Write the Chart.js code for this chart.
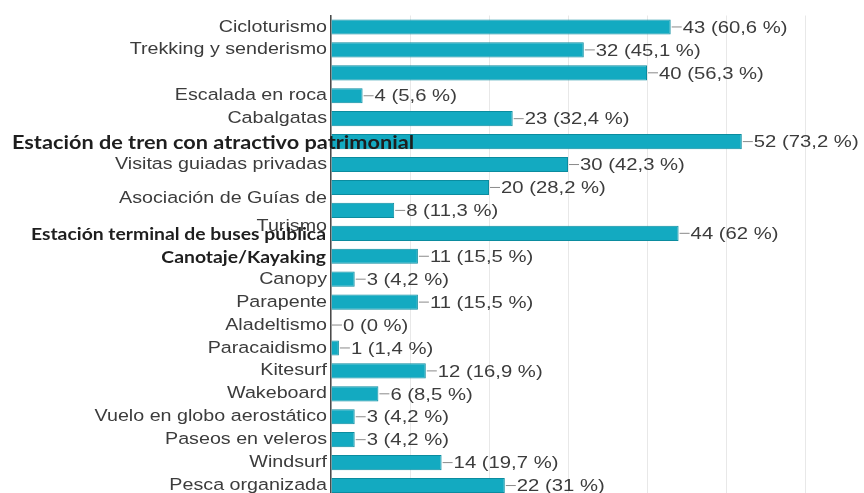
<!DOCTYPE html>
<html>
<head>
<meta charset="utf-8">
<script src="https://cdn.jsdelivr.net/npm/chart.js@4/dist/chart.umd.min.js"></script>
<style>
  html, body { margin: 0; padding: 0; background: #fff; overflow: hidden; }
  #wrap { width: 864px; height: 497px; }
</style>
</head>
<body>
<div id="wrap"><canvas id="actChart"></canvas></div>
<script>
const categories = [
  "Cicloturismo",
  "Trekking y senderismo",
  "",
  "Escalada en roca",
  "Cabalgatas",
  "Estación de tren con atractivo patrimonial",
  "Visitas guiadas privadas",
  "",
  ["Asociación de Guías de", "Turismo"],
  "Estación terminal de buses pública",
  "Canotaje/Kayaking",
  "Canopy",
  "Parapente",
  "Aladeltismo",
  "Paracaidismo",
  "Kitesurf",
  "Wakeboard",
  "Vuelo en globo aerostático",
  "Paseos en veleros",
  "Windsurf",
  "Pesca organizada"
];
const counts = [43, 32, 40, 4, 23, 52, 30, 20, 8, 44, 11, 3, 11, 0, 1, 12, 6, 3, 3, 14, 22];
const percents = [60.6, 45.1, 56.3, 5.6, 32.4, 73.2, 42.3, 28.2, 11.3, 62, 15.5, 4.2, 15.5, 0, 1.4, 16.9, 8.5, 4.2, 4.2, 19.7, 31];
const xTicks = [0, 10, 20, 30, 40, 50, 60];

// labels pasted in another font in the original picture
const boldRows = [5, 9, 10];
const STRETCH = 1.18;

function fmtPct(p) {
  return String(p).replace(".", ",") + " %";
}

function stretchedText(ctx, txt, x, y, align) {
  ctx.save();
  ctx.translate(x, y);
  ctx.scale(STRETCH, 1);
  ctx.textAlign = align;
  ctx.fillText(txt, 0, 0);
  ctx.restore();
}

const labelPlugin = {
  id: "labelPlugin",
  afterDraw(chart) {
    const ctx = chart.ctx;
    const yScale = chart.scales.y;
    const left = chart.chartArea.left;
    ctx.save();
    ctx.textBaseline = "middle";

    // category labels
    categories.forEach((lab, i) => {
      const y = yScale.getPixelForTick(i);
      if (boldRows.includes(i)) {
        ctx.fillStyle = "#1e1e1e";
        if (i === 5) {
          ctx.font = "bold 18.4px Lato";
          stretchedText(ctx, lab, 12, y + 1, "left");
        } else {
          ctx.font = "bold 16.4px Lato";
          stretchedText(ctx, lab, left - 5, y + 1, "right");
        }
        return;
      }
      ctx.font = "16.7px 'Liberation Sans'";
      ctx.fillStyle = "#3c3c3c";
      const lines = Array.isArray(lab) ? lab : [lab];
      const lh = 28;
      lines.forEach((ln, k) => {
        const off = lines.length > 1 ? 2 : 0;
        const yy = y + off + (k - (lines.length - 1) / 2) * lh;
        stretchedText(ctx, ln, left - 4, yy, "right");
      });
    });

    // value labels with leader dash
    const meta = chart.getDatasetMeta(0);
    ctx.font = "17.2px 'Liberation Sans'";
    meta.data.forEach((bar, i) => {
      const x0 = bar.x + 1;
      const y = bar.y;
      ctx.strokeStyle = "#8a8a8a";
      ctx.lineWidth = 1;
      ctx.beginPath();
      ctx.moveTo(x0, y);
      ctx.lineTo(x0 + 10, y);
      ctx.stroke();
      ctx.fillStyle = "#3c3c3c";
      stretchedText(ctx, counts[i] + " (" + fmtPct(percents[i]) + ")", x0 + 11, y + 1, "left");
    });
    ctx.restore();
  }
};

new Chart(document.getElementById("actChart"), {
  type: "bar",
  data: {
    labels: categories,
    datasets: [{
      data: counts,
      backgroundColor: "#13aac1",
      borderColor: "#0b8c9f",
      borderWidth: 1,
      barPercentage: 0.66,
      categoryPercentage: 1
    }]
  },
  options: {
    indexAxis: "y",
    responsive: true,
    maintainAspectRatio: false,
    animation: false,
    layout: { padding: { top: 15.5, right: 59, bottom: 0, left: 0 } },
    plugins: {
      legend: { display: false },
      tooltip: { enabled: false }
    },
    scales: {
      x: {
        min: 0,
        max: 60,
        afterBuildTicks: s => { s.ticks = xTicks.map(v => ({ value: v })); },
        ticks: { display: false },
        grid: { color: "#e8e8e8", lineWidth: 1, drawTicks: false },
        border: { display: false },
        afterFit: s => { s.height = 0; }
      },
      y: {
        ticks: { display: false },
        grid: { display: false },
        border: { display: true, color: "#4a4a4a", width: 1.5 },
        afterFit: s => { s.width = 331; }
      }
    }
  },
  plugins: [labelPlugin]
});
</script>
</body>
</html>
